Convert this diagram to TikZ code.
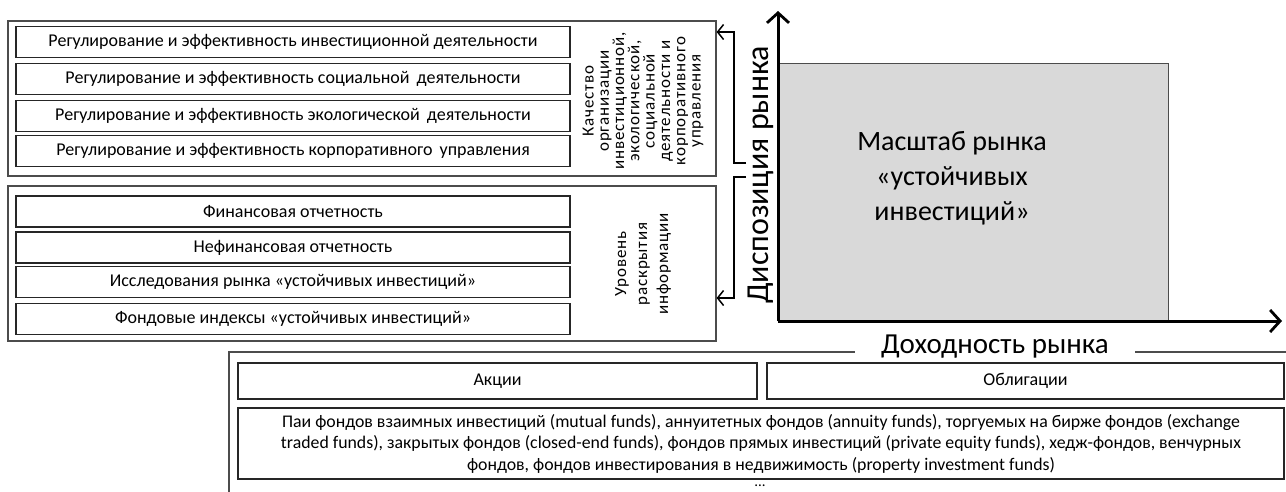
\documentclass[tikz,border=0pt]{standalone}
\usepackage{fontspec}
\setmainfont{Carlito}
\newfontfamily\spacedfont[LetterSpace=5]{Carlito}
\usepackage{xcolor}
\usetikzlibrary{arrows.meta, positioning}

\begin{document}
\begin{tikzpicture}[x=1pt, y=-1pt,
    outerbox/.style={draw=black!70, line width=1.2pt, minimum width=708pt, minimum height=155pt, inner sep=0pt},
    rowbox/.style={draw=black!85, line width=1.3pt, minimum width=554pt, minimum height=31pt, inner sep=0pt, font=\fontsize{18}{20}\selectfont},
    vlabel/.style={rotate=90, align=center, inner sep=0pt, font=\spacedfont\fontsize{17}{15.3}\selectfont},
    axis/.style={line width=3pt, -{Straight Barb[length=10pt, width=22pt, line width=2.8pt]}},
    bracket/.style={line width=1.5pt, -{Straight Barb[length=6pt, width=15pt, line width=1.5pt]}},
    bigtext/.style={align=center, inner sep=0pt, font=\fontsize{28}{35}\selectfont}]
  \clip (0,0) rectangle (1286,491);
  \useasboundingbox (0,0) rectangle (1286,491);

  % upper block
  \node[outerbox] (quality) at (362,98.5) {};
  \node[rowbox] (reg1) at (293,42) {Регулирование и эффективность инвестиционной деятельности};
  \node[rowbox] (reg2) at (293,79) {Регулирование и эффективность социальной\, деятельности};
  \node[rowbox] (reg3) at (293,116) {Регулирование и эффективность экологической\, деятельности};
  \node[rowbox] (reg4) at (293,151) {Регулирование и эффективность корпоративного\, управления};
  \node[vlabel] (qtext) at (643,101) {Качество\\организации\\инвестиционной,\\экологической,\\социальной\\деятельности и\\корпоративного\\управления};

  % lower block
  \node[outerbox] (disclosure) at (362,263.5) {};
  \node[rowbox] (rep1) at (293,211.5) {Финансовая отчетность};
  \node[rowbox] (rep2) at (293,247.5) {Нефинансовая отчетность};
  \node[rowbox] (rep3) at (293,282) {Исследования рынка «устойчивых инвестиций»};
  \node[rowbox] (rep4) at (293,319) {Фондовые индексы «устойчивых инвестиций»};
  \node[vlabel, font=\spacedfont\fontsize{17}{21}\selectfont] (dtext) at (643,264) {Уровень\\раскрытия\\информации};

  % brackets from the axis
  \coordinate (t1) at (746,163);
  \coordinate (h1) at (quality.east |- 0,32);
  \coordinate (t2) at (746,177);
  \coordinate (h2) at (disclosure.east |- 0,298);
  \draw[bracket] (t1) -- ++(-12,0) |- (h1);
  \draw[bracket] (t2) -- ++(-12,0) |- (h2);

  % market chart
  \node[draw=black!70, line width=0.8pt, fill=black!15, minimum width=390pt, minimum height=258pt, inner sep=0pt] (market) at (973,192) {};
  \node[bigtext] (scale) at (952,178) {Масштаб рынка\\«устойчивых\\инвестиций»};
  \coordinate (o) at (778,321);
  \coordinate (ytop) at (778,11);
  \coordinate (xend) at (1282,321);
  \draw[axis] (o) -- (ytop);
  \draw[axis] (o) -- (xend);
  \node[rotate=90, inner sep=0pt, font=\fontsize{32}{34}\selectfont] (ylab) at (761,175) {Диспозиция рынка};

  % instruments
  \draw[draw=black!70, line width=1.2pt] (1300,352) -- (229,352) -- (229,500);
  \node[fill=white, inner xsep=26pt, inner ysep=1pt, font=\fontsize{29}{31}\selectfont] (xlab) at (995,347) {Доходность рынка};
  \node[rowbox, minimum width=519pt, minimum height=36pt] (shares) at (497.5,381) {Акции};
  \node[rowbox, minimum width=517pt, minimum height=36pt] (bonds) at (1025.5,381) {Облигации};
  \node[rowbox, minimum width=1046pt, minimum height=71pt, align=center, font=\fontsize{17.8}{21.5}\selectfont] (funds) at (761,443.5)
    {Паи фондов взаимных инвестиций (mutual funds), аннуитетных фондов (annuity funds), торгуемых на бирже фондов (exchange\\
     traded funds), закрытых фондов (closed-end funds), фондов прямых инвестиций (private equity funds), хедж-фондов, венчурных\\
     фондов, фондов инвестирования в недвижимость (property investment funds)};
  \node[inner sep=0pt, font=\fontsize{15}{16}\selectfont] (dots) at (760,486) {...};
\end{tikzpicture}
\end{document}
